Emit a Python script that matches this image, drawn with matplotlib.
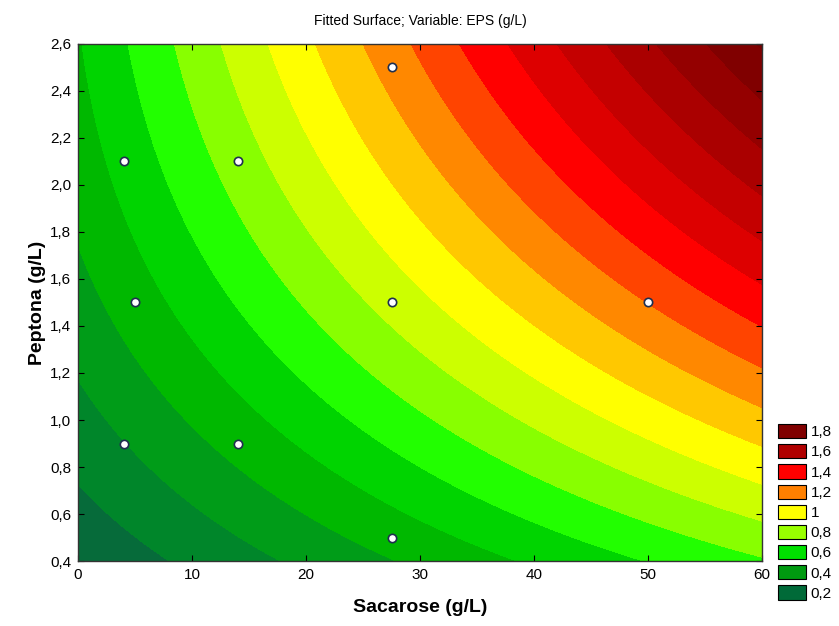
import numpy as np
import matplotlib.pyplot as plt
from matplotlib.colors import ListedColormap, BoundaryNorm
from matplotlib.patches import Patch

plt.rcParams['font.family'] = ['Liberation Sans', 'DejaVu Sans']

# experimental runs (design points)
sacarose = [4, 14, 27.5, 5, 27.5, 50, 4, 14, 27.5]
peptona = [2.1, 2.1, 2.5, 1.5, 1.5, 1.5, 0.9, 0.9, 0.5]

# fitted quadratic model: EPS = b0 + bS*S + bP*P + bSS*S^2 + bPP*P^2 + bSP*S*P
b0, bS, bP = 0.046, 0.0082, 0.315
bSS, bPP, bSP = -0.00002, -0.048, 0.0064

# contour levels and band colours (one colour per band)
levels = [0.15, 0.25, 0.35, 0.45, 0.55, 0.65, 0.75, 0.85, 0.95, 1.05,
          1.15, 1.25, 1.35, 1.45, 1.55, 1.65, 1.75, 1.85, 1.95, 2.05]
band_colors = ['#066b3a', '#00862a', '#009c18', '#00b800', '#00d400',
               '#22ff00', '#88ff00', '#ccff00', '#ffff00', '#ffc800',
               '#ff8800', '#ff4400', '#ff0000', '#dd0000', '#c40000',
               '#aa0000', '#940000', '#800000', '#780000']

# legend entries
legend_values = ['1,8', '1,6', '1,4', '1,2', '1', '0,8', '0,6', '0,4', '0,2']
legend_colors = ['#800000', '#b00000', '#ff0000', '#ff8000', '#ffff00',
                 '#99ff00', '#00e000', '#009a10', '#006a38']

xticks = [0, 10, 20, 30, 40, 50, 60]
yticks = [0.4, 0.6, 0.8, 1.0, 1.2, 1.4, 1.6, 1.8, 2.0, 2.2, 2.4, 2.6]
ytick_labels = ['0,4', '0,6', '0,8', '1,0', '1,2', '1,4', '1,6', '1,8',
                '2,0', '2,2', '2,4', '2,6']

S, P = np.meshgrid(np.linspace(0, 60, 300), np.linspace(0.4, 2.6, 300))
eps = b0 + bS * S + bP * P + bSS * S ** 2 + bPP * P ** 2 + bSP * S * P

fig = plt.figure(figsize=(8.39, 6.26), dpi=100)
ax = fig.add_axes([0.093, 0.1038, 0.8153, 0.826])

cmap = ListedColormap(band_colors)
norm = BoundaryNorm(levels, cmap.N)
cs = ax.contourf(S, P, eps, levels=levels, cmap=cmap, norm=norm)
cs.set_edgecolor('face')  # hide the thin seams between bands
cs.set_linewidth(0.6)

ax.plot(sacarose, peptona, 'o', ms=6, mfc='white', mec='#1f2f4f', mew=1.2,
        linestyle='none')

ax.set_xlim(0, 60)
ax.set_ylim(0.4, 2.6)
ax.set_xticks(xticks)
ax.set_yticks(yticks)
ax.set_yticklabels(ytick_labels)
ax.tick_params(direction='in', length=4, top=True, right=True,
               labelsize=11, pad=5)
for s in ax.spines.values():
    s.set_color('#333333')
    s.set_linewidth(1)

ax.set_title('Fitted Surface; Variable: EPS (g/L)', fontsize=10, pad=14)
ax.set_xlabel('Sacarose (g/L)', fontsize=14, fontweight='bold', labelpad=12)
ax.set_ylabel('Peptona (g/L)', fontsize=14, fontweight='bold', labelpad=3)

handles = [Patch(facecolor=c, edgecolor='black', linewidth=0.8)
           for c in legend_colors]
ax.legend(handles, legend_values, loc='upper left',
          bbox_to_anchor=(1.024, 0.265), frameon=False, fontsize=11,
          handlelength=1.8, handleheight=1.05, labelspacing=0.32,
          handletextpad=0.3, borderpad=0, borderaxespad=0)

fig.savefig('out.png', dpi=100)
